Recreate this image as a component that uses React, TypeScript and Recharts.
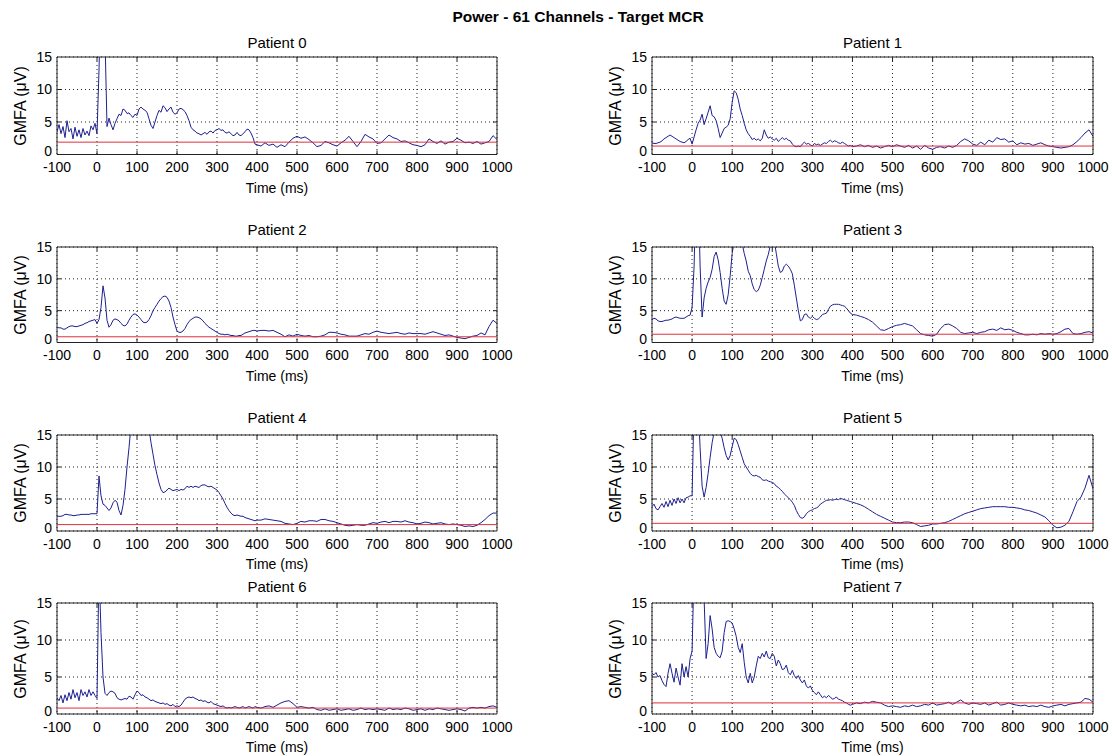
import React from 'react';
import { LineChart, Line, XAxis, YAxis, CartesianGrid, ReferenceLine, ReferenceArea } from 'recharts';

const TIME = [
  -100, -95, -90, -85, -80, -75, -70, -65, -60, -55,
  -50, -45, -40, -35, -30, -25, -20, -15, -10, -5,
  0, 5, 10, 15, 20, 25, 30, 35, 40, 45,
  50, 55, 60, 65, 70, 75, 80, 85, 90, 95,
  100, 105, 110, 115, 120, 125, 130, 135, 140, 145,
  150, 155, 160, 165, 170, 175, 180, 185, 190, 195,
  200, 205, 210, 215, 220, 225, 230, 235, 240, 245,
  250, 255, 260, 265, 270, 275, 280, 285, 290, 295,
  300, 305, 310, 315, 320, 325, 330, 335, 340, 345,
  350, 355, 360, 365, 370, 375, 380, 385, 390, 395,
  400, 410, 420, 430, 440, 450, 460, 470, 480, 490,
  500, 510, 520, 530, 540, 550, 560, 570, 580, 590,
  600, 610, 620, 630, 640, 650, 660, 670, 680, 690,
  700, 710, 720, 730, 740, 750, 760, 770, 780, 790,
  800, 810, 820, 830, 840, 850, 860, 870, 880, 890,
  900, 910, 920, 930, 940, 950, 960, 970, 980, 990,
  1000,
];

const P0 = [
  3.5, 4.6, 3.2, 4.3, 2.6, 5.2, 3.5, 4.0, 2.4, 4.2,
  2.8, 3.8, 2.6, 4.0, 3.0, 3.6, 2.9, 4.4, 3.8, 4.8,
  3.2, 13, 25, 25, 18, 4.3, 5.6, 4.6, 3.8, 4.8,
  5.5, 6.2, 6.0, 7.0, 6.8, 6.3, 6.4, 6.0, 5.7, 6.2,
  6.0, 7.0, 7.3, 7.0, 6.8, 6.5, 5.5, 4.5, 4.0, 5.0,
  6.0, 6.8, 6.5, 7.5, 7.2, 6.6, 7.0, 7.3, 6.5, 6.2,
  6.4, 7.0, 7.1, 6.9, 6.6, 6.0, 5.2, 4.2, 3.8, 3.6,
  3.3, 3.2, 3.0, 3.2, 3.4, 3.1, 3.5, 3.6, 3.3, 3.7,
  3.8, 4.0, 3.7, 3.8, 3.4, 3.3, 3.5, 3.2, 2.9, 3.0,
  3.4, 3.0, 2.9, 3.2, 3.5, 3.9, 3.8, 3.3, 2.6, 1.6,
  1.5, 1.3, 1.8, 1.4, 1.6, 1.1, 1.5, 1.2, 1.9, 2.5,
  2.8, 2.5, 2.7, 2.3, 1.8, 1.2, 1.4, 2.0, 1.8, 1.5,
  1.3, 1.8, 2.2, 2.8, 2.0, 1.2, 2.0, 3.1, 2.7, 2.4,
  1.7, 1.8, 2.4, 3.0, 2.6, 2.4, 2.0, 2.1, 1.8, 1.5,
  1.4, 1.2, 1.5, 2.4, 2.0, 1.7, 2.1, 1.6, 1.9, 2.0,
  2.5, 2.2, 1.8, 1.9, 1.7, 2.0, 1.6, 1.8, 2.0, 2.9,
  2.3,
];

const P1 = [
  1.8, 1.7, 1.7, 1.8, 1.9, 2.1, 2.4, 2.6, 2.8, 3.0,
  2.8, 2.6, 2.4, 2.2, 2.0, 1.9, 1.8, 2.0, 2.3, 2.5,
  1.6, 2.7, 3.8, 4.8, 5.3, 6.2, 4.6, 5.5, 6.5, 7.5,
  6.0, 5.8, 5.2, 4.0, 2.6, 3.3, 4.0, 4.2, 4.5, 5.5,
  8.0, 9.8, 9.5, 8.5, 7.0, 6.0, 4.8, 3.8, 3.2, 2.8,
  2.3, 2.5, 2.2, 2.4, 2.1, 2.5, 3.8, 3.0, 2.5, 2.7,
  2.4, 2.2, 2.5, 2.0, 2.3, 2.6, 2.3, 2.5, 2.2, 2.1,
  1.6, 1.3, 1.2, 1.3, 1.2, 1.6, 1.9, 1.6, 1.7, 1.5,
  1.3, 1.7, 1.5, 1.6, 1.4, 1.6, 1.8, 1.7, 2.0, 2.2,
  1.9, 2.1, 2.0, 1.8, 1.7, 1.9, 1.7, 1.5, 1.3, 1.4,
  1.2, 1.3, 1.5, 1.2, 1.4, 1.1, 1.3, 1.0, 1.2, 1.4,
  1.2, 1.5, 1.3, 1.1, 1.4, 1.0, 1.3, 0.8, 1.4, 1.0,
  0.8, 1.1, 1.2, 1.0, 1.3, 1.1, 1.4, 2.0, 2.4, 2.1,
  1.6, 1.4, 1.9, 1.5, 2.2, 1.9, 2.6, 2.3, 2.4, 1.9,
  2.1, 1.5, 1.8, 1.6, 1.7, 1.4, 1.6, 1.8, 1.5, 1.3,
  1.2, 1.1, 1.0, 1.1, 1.2, 1.5, 2.0, 2.6, 3.3, 3.8,
  2.8,
];

const P2 = [
  2.4, 2.3, 2.3, 2.1, 2.1, 2.3, 2.5, 2.6, 2.6, 2.5,
  2.5, 2.6, 2.7, 2.8, 3.0, 3.1, 3.3, 3.4, 3.5, 3.6,
  3.0, 3.6, 5.5, 8.9, 7.0, 3.5, 2.4, 2.8, 3.5, 3.7,
  3.6, 3.4, 3.0, 2.7, 2.6, 2.9, 3.5, 4.0, 4.4, 4.5,
  4.3, 4.0, 3.6, 3.2, 3.1, 3.2, 3.6, 4.2, 5.0, 5.5,
  6.0, 6.5, 6.9, 7.2, 7.3, 7.1, 6.5, 5.5, 4.0, 2.8,
  1.8, 1.6, 1.6, 1.8, 2.2, 2.8, 3.3, 3.6, 3.8, 4.0,
  4.0, 3.9, 3.7, 3.4, 3.0, 2.7, 2.4, 2.2, 2.0, 1.8,
  1.6, 1.4, 1.3, 1.3, 1.2, 1.3, 1.2, 1.1, 1.1, 1.0,
  1.0, 1.1, 1.1, 1.3, 1.5, 1.6, 1.7, 1.8, 1.9, 1.9,
  1.8, 1.9, 1.9, 1.8, 1.9, 1.6, 1.3, 0.9, 1.2, 1.0,
  1.3, 1.1, 1.0, 1.1, 0.9, 0.9, 1.0, 1.2, 1.6, 1.6,
  1.5, 1.3, 1.2, 1.0, 1.0, 1.0, 1.2, 1.4, 1.3, 1.6,
  1.8, 1.6, 1.5, 1.4, 1.5, 1.6, 1.4, 1.3, 1.5, 1.4,
  1.4, 1.4, 1.3, 1.5, 1.7, 1.5, 1.3, 1.1, 1.2, 1.0,
  0.8, 0.7, 0.6, 0.8, 1.0, 1.1, 1.5, 1.2, 2.5, 3.5,
  3.0,
];

const P3 = [
  3.6, 3.8, 3.7, 3.4, 3.3, 3.3, 3.4, 3.5, 3.5, 3.6,
  3.7, 3.9, 4.0, 3.9, 3.8, 3.8, 3.8, 4.0, 4.2, 4.3,
  5.5, 12, 25, 25, 12, 4.0, 7.0, 8.5, 9.5, 10.2,
  11.5, 13.5, 14.2, 13.0, 11.0, 8.5, 6.5, 6.0, 7.5, 10.5,
  14.0, 16, 16, 16, 16, 15.5, 14.0, 12.8, 11.2, 10.5,
  9.2, 8.3, 8.0, 8.2, 9.0, 10.2, 11.5, 12.8, 13.8, 15.2,
  16, 16, 14.0, 12.0, 11.0, 11.2, 12.0, 12.3, 12.0, 11.5,
  10.8, 9.0, 7.0, 5.0, 3.4, 3.6, 4.4, 4.5, 4.0, 3.8,
  4.1, 3.8, 3.6, 3.7, 4.0, 4.4, 4.5, 4.6, 5.2, 5.7,
  5.9, 6.0, 6.0, 6.0, 5.9, 5.8, 5.7, 5.4, 5.0, 4.6,
  4.4, 4.3, 4.1, 3.9, 3.6, 3.2, 2.6, 2.0, 1.9, 2.2,
  2.5, 2.7, 2.8, 3.0, 2.8, 2.6, 2.0, 1.4, 1.2, 1.1,
  1.0, 1.3, 2.2, 2.8, 2.9, 2.6, 2.2, 1.6, 1.4, 1.5,
  1.6, 1.4, 1.6, 1.7, 2.0, 2.1, 1.9, 2.3, 2.0, 2.1,
  1.9, 1.6, 1.4, 1.2, 1.2, 1.3, 1.2, 1.4, 1.3, 1.4,
  1.3, 1.4, 1.7, 2.1, 2.2, 1.4, 1.3, 1.4, 1.6, 1.7,
  1.5,
];

const P4 = [
  2.3, 2.3, 2.3, 2.4, 2.6, 2.6, 2.5, 2.5, 2.4, 2.4,
  2.5, 2.5, 2.6, 2.6, 2.6, 2.6, 2.6, 2.7, 2.7, 2.7,
  2.7, 8.6, 5.5, 4.2, 4.0, 3.6, 3.2, 3.6, 4.4, 4.8,
  4.5, 3.2, 2.5, 4.0, 6.5, 10.0, 13.0, 16.5, 18, 20,
  20, 20, 20, 20, 20, 19, 16.0, 13.8, 12.0, 10.2,
  8.8, 7.5, 6.5, 6.0, 6.1, 6.4, 6.7, 6.5, 6.3, 6.4,
  6.5, 6.3, 6.5, 6.4, 6.6, 7.0, 6.8, 7.0, 6.8, 7.0,
  6.9, 6.8, 7.1, 7.2, 7.2, 7.0, 6.9, 7.0, 6.8, 6.6,
  6.4, 6.0, 5.5, 5.0, 4.3, 3.7, 3.2, 2.8, 2.5, 2.4,
  2.5, 2.4, 2.3, 2.3, 2.1, 2.0, 1.9, 1.8, 1.7, 1.6,
  1.7, 1.7, 1.9, 1.8, 1.7, 1.6, 1.5, 1.2, 1.1, 1.0,
  1.2, 1.5, 1.4, 1.6, 1.6, 1.5, 1.8, 1.8, 1.6, 1.5,
  1.3, 1.1, 0.9, 0.8, 0.9, 1.0, 0.9, 0.9, 1.1, 1.3,
  1.2, 1.4, 1.5, 1.3, 1.5, 1.5, 1.4, 1.6, 1.4, 1.3,
  1.1, 1.2, 1.4, 1.3, 1.1, 1.2, 1.3, 1.1, 1.0, 1.1,
  1.0, 0.9, 0.7, 0.8, 0.7, 0.9, 1.3, 1.8, 2.4, 2.8,
  2.8,
];

const P5 = [
  3.8, 4.2, 3.5, 3.3, 3.8, 4.3, 3.7, 4.6, 3.8, 4.8,
  4.0, 5.0, 4.3, 5.2, 4.4, 5.0, 4.4, 5.2, 5.3, 5.5,
  5.5, 20, 20, 20, 13, 7.0, 5.3, 6.8, 9.0, 11.5,
  13.8, 15.5, 16, 16, 15.5, 14.5, 13.0, 11.8, 11.1, 11.8,
  13.2, 14.5, 14.3, 13.5, 12.5, 11.5, 10.5, 10.0, 9.5, 9.0,
  8.7, 8.6, 8.7, 8.5, 8.4, 8.0, 7.9, 8.0, 7.8, 7.7,
  7.6, 7.4, 7.0, 6.8, 6.5, 6.2, 5.8, 5.5, 5.2, 4.9,
  4.5, 4.0, 3.2, 2.6, 2.1, 2.0, 2.2, 2.7, 3.0, 3.2,
  3.3, 3.5, 3.6, 3.8, 4.2, 4.4, 4.6, 4.8, 4.8, 4.9,
  4.8, 4.9, 5.0, 4.9, 5.1, 5.0, 4.9, 4.8, 4.7, 4.6,
  4.5, 4.3, 4.1, 3.8, 3.4, 3.0, 2.6, 2.3, 2.0, 1.7,
  1.4, 1.3, 1.3, 1.4, 1.4, 1.3, 1.0, 0.7, 0.8, 0.9,
  1.1, 1.1, 1.2, 1.3, 1.5, 1.8, 2.1, 2.4, 2.7, 2.9,
  3.1, 3.3, 3.5, 3.6, 3.7, 3.8, 3.8, 3.8, 3.8, 3.7,
  3.7, 3.6, 3.5, 3.3, 3.2, 3.0, 2.8, 2.5, 2.2, 1.6,
  0.9, 0.5, 0.6, 0.9, 1.5, 3.0, 4.6, 5.3, 6.7, 8.7,
  6.6,
];

const P6 = [
  2.2, 1.8, 2.5, 1.5, 2.6, 1.8, 2.9, 2.0, 3.3, 2.2,
  2.9, 1.8, 3.3, 2.5, 3.0, 2.3, 3.3, 2.5, 3.0, 2.5,
  2.1, 20, 11, 5.0, 2.8, 2.5, 2.9, 3.1, 3.0, 2.8,
  2.2, 2.0, 1.9, 2.0, 2.1, 2.0, 2.4, 2.3, 2.0, 2.6,
  3.1, 2.9, 2.5, 2.6, 2.3, 2.2, 2.0, 1.8, 1.9, 1.7,
  1.6, 1.5, 1.4, 1.5, 1.3, 1.4, 1.2, 1.1, 1.3, 1.0,
  1.1, 1.0, 1.2, 1.6, 2.0, 2.2, 2.3, 2.2, 2.3, 2.1,
  2.0, 1.8, 1.9, 1.7, 1.8, 1.6, 1.5, 1.7, 1.4, 1.3,
  1.2, 1.1, 1.0, 1.1, 0.9, 0.8, 0.9, 0.8, 0.9, 1.0,
  0.9, 0.8, 0.9, 1.0, 0.8, 0.9, 1.0, 0.9, 0.8, 1.0,
  0.9, 0.8, 1.0, 1.1, 0.9, 1.2, 1.5, 1.7, 1.8, 1.4,
  0.9, 1.0, 0.9, 0.8, 0.9, 0.6, 0.5, 0.7, 0.5, 0.6,
  0.7, 0.5, 0.6, 0.7, 0.5, 0.6, 0.8, 0.6, 0.7, 0.6,
  0.7, 0.6, 0.5, 0.8, 0.6, 0.7, 0.6, 0.8, 0.7, 0.5,
  0.6, 0.7, 0.5, 0.7, 0.6, 0.8, 0.7, 0.6, 0.5, 0.6,
  0.7, 0.6, 0.4, 0.8, 0.9, 0.8, 0.9, 0.8, 1.0, 1.1,
  0.9,
];

const P7 = [
  5.5, 5.3, 5.6, 5.0, 5.2, 4.5, 4.0, 3.7, 5.5, 6.8,
  5.5, 4.3, 6.2, 5.0, 3.9, 6.8, 5.0, 6.4, 5.0, 7.5,
  8.5, 20, 20, 20, 20, 20, 15.5, 7.5, 9.5, 13.3,
  11.5, 9.0, 8.2, 7.8, 7.6, 8.5, 11.0, 12.5, 12.6, 12.5,
  12.3, 11.5, 10.5, 9.0, 8.3, 9.5, 7.0, 5.0, 4.2, 5.5,
  4.2, 5.0, 6.5, 7.8, 7.5, 8.2, 7.7, 8.5, 7.6, 7.5,
  8.2, 7.8, 6.5, 7.3, 6.8, 6.0, 6.1, 6.6, 5.6, 5.3,
  5.9, 5.2, 4.8, 5.2, 4.6, 4.2, 4.6, 3.8, 3.5, 3.8,
  3.2, 2.9, 2.6, 3.0, 2.6, 2.2, 2.4, 2.2, 2.5, 2.3,
  2.0, 2.1, 2.3, 2.0, 1.9, 1.8, 1.6, 1.5, 1.3, 1.2,
  1.3, 1.5, 1.4, 1.6, 1.5, 1.7, 1.6, 1.5, 1.2, 1.0,
  1.1, 1.0, 0.9, 1.1, 1.0, 1.2, 1.0, 1.1, 1.3, 1.2,
  1.5, 1.2, 1.3, 1.4, 1.6, 1.3, 1.6, 1.9, 1.5, 1.3,
  1.5, 1.4, 1.3, 1.5, 1.2, 1.4, 1.6, 1.2, 1.3, 1.5,
  1.3, 1.2, 1.1, 1.2, 1.0, 1.1, 1.0, 1.2, 1.0, 0.9,
  1.1, 1.2, 1.3, 1.1, 1.3, 1.4, 1.5, 1.6, 2.1, 2.0,
  1.6,
];

const SERIES = [P0, P1, P2, P3, P4, P5, P6, P7];
const THRESHOLDS = [1.9, 1.3, 0.9, 1.3, 1.0, 1.2, 0.8, 1.5];
const PATIENTS = ['Patient 0', 'Patient 1', 'Patient 2', 'Patient 3', 'Patient 4', 'Patient 5', 'Patient 6', 'Patient 7'];
const X_TICKS = [-100, 0, 100, 200, 300, 400, 500, 600, 700, 800, 900, 1000];
const Y_TICKS = [0, 5, 10, 15];
const X_DOMAIN = [-100, 1000];
const Y_DOMAIN = [0, 15];
const MAIN_TITLE = 'Power - 61 Channels - Target MCR';
const X_LABEL = 'Time (ms)';
const Y_LABEL = 'GMFA (\u03bcV)';

// layout (pixels)
const COL_X = [57, 652];
const COL_W = [440, 441];
const ROW_Y = [57, 247, 435, 603];
const ROW_H = [97.5, 95.5, 96, 111];
const TITLE_Y = [43, 230, 418, 587];
const TICK_LEN = 4;

const BLUE = '#1e2090';
const RED = '#e0303c';
const FRAME = '#222';
const FONT = '"Liberation Sans", Arial, Helvetica, sans-serif';

function YTick(props: any) {
  const { x, y, payload } = props;
  const lift = payload.value === 0 ? -3 : 0;
  return (
    <text x={x} y={y + lift} dy="0.355em" textAnchor="end" fontSize={14} fill="#000" fontFamily={FONT}>
      {payload.value}
    </text>
  );
}

function Panel({ idx }: { idx: number }) {
  const col = idx % 2;
  const row = Math.floor(idx / 2);
  const px = COL_X[col];
  const pw = COL_W[col];
  const py = ROW_Y[row];
  const ph = ROW_H[row];
  const YW = 40;
  const MT = 10;
  const MR = 22;
  const XH = 30;
  const values = SERIES[idx];
  const data = TIME.map((t, i) => ({ t, v: values[i] }));
  // inward tick-mark lengths expressed in axis units
  const dyUnits = (TICK_LEN / ph) * (Y_DOMAIN[1] - Y_DOMAIN[0]);
  const dxUnits = (TICK_LEN / pw) * (X_DOMAIN[1] - X_DOMAIN[0]);
  const innerX = X_TICKS.slice(1, -1);
  const innerY = Y_TICKS.slice(1, -1);
  return (
    <>
      <div
        style={{
          position: 'absolute',
          left: px,
          width: pw,
          top: TITLE_Y[row] - 9,
          lineHeight: '18px',
          textAlign: 'center',
          fontSize: 15,
          color: '#000',
        }}
      >
        {PATIENTS[idx]}
      </div>
      <div style={{ position: 'absolute', left: px - YW, top: py - MT }}>
        <LineChart
          width={pw + YW + MR}
          height={MT + ph + XH}
          data={data}
          margin={{ top: MT, right: MR, bottom: 0, left: 0 }}
        >
          <CartesianGrid stroke="#222" strokeDasharray="1 3" />
          <XAxis
            dataKey="t"
            type="number"
            domain={X_DOMAIN}
            ticks={X_TICKS}
            interval={0}
            allowDataOverflow
            height={XH}
            tickLine={false}
            axisLine={false}
            tickSize={5}
            tickMargin={3}
            tick={{ fontSize: 14, fill: '#000', fontFamily: FONT }}
          />
          <YAxis
            type="number"
            domain={Y_DOMAIN}
            ticks={Y_TICKS}
            interval={0}
            allowDataOverflow
            width={YW}
            tickLine={false}
            axisLine={false}
            tickSize={3}
            tickMargin={2}
            tick={<YTick />}
          />
          <Line
            type="linear"
            dataKey="v"
            stroke={BLUE}
            strokeWidth={1}
            dot={false}
            activeDot={false}
            isAnimationActive={false}
          />
          <ReferenceLine y={THRESHOLDS[idx]} stroke={RED} strokeWidth={1} />
          {innerX.map((t) => (
            <ReferenceLine
              key={`xb${t}`}
              segment={[{ x: t, y: Y_DOMAIN[0] }, { x: t, y: Y_DOMAIN[0] + dyUnits }]}
              stroke={FRAME}
              strokeWidth={1}
            />
          ))}
          {innerX.map((t) => (
            <ReferenceLine
              key={`xt${t}`}
              segment={[{ x: t, y: Y_DOMAIN[1] }, { x: t, y: Y_DOMAIN[1] - dyUnits }]}
              stroke={FRAME}
              strokeWidth={1}
            />
          ))}
          {innerY.map((v) => (
            <ReferenceLine
              key={`yl${v}`}
              segment={[{ x: X_DOMAIN[0], y: v }, { x: X_DOMAIN[0] + dxUnits, y: v }]}
              stroke={FRAME}
              strokeWidth={1}
            />
          ))}
          {innerY.map((v) => (
            <ReferenceLine
              key={`yr${v}`}
              segment={[{ x: X_DOMAIN[1], y: v }, { x: X_DOMAIN[1] - dxUnits, y: v }]}
              stroke={FRAME}
              strokeWidth={1}
            />
          ))}
          <ReferenceArea x1={X_DOMAIN[0]} x2={X_DOMAIN[1]} y1={Y_DOMAIN[0]} y2={Y_DOMAIN[1]} fill="none" stroke={FRAME} strokeWidth={1} />
        </LineChart>
      </div>
      <div
        style={{
          position: 'absolute',
          left: px,
          width: pw,
          top: py + ph + 33 - 9,
          lineHeight: '18px',
          textAlign: 'center',
          fontSize: 14,
          color: '#000',
        }}
      >
        {X_LABEL}
      </div>
      <div
        style={{
          position: 'absolute',
          left: px - 36,
          top: py + ph / 2,
          transform: 'translate(-50%, -50%) rotate(-90deg)',
          whiteSpace: 'nowrap',
          fontSize: 16,
          lineHeight: '18px',
          color: '#000',
        }}
      >
        {Y_LABEL}
      </div>
    </>
  );
}

export default function App() {
  return (
    <div
      style={{
        position: 'absolute',
        left: 0,
        top: 0,
        width: 1112,
        height: 756,
        background: '#fff',
        fontFamily: FONT,
        overflow: 'hidden',
      }}
    >
      <div
        style={{
          position: 'absolute',
          left: 378,
          width: 400,
          top: 8,
          lineHeight: '18px',
          textAlign: 'center',
          fontSize: 15.5,
          fontWeight: 'bold',
          color: '#000',
        }}
      >
        {MAIN_TITLE}
      </div>
      {SERIES.map((_, i) => (
        <Panel key={i} idx={i} />
      ))}
    </div>
  );
}
